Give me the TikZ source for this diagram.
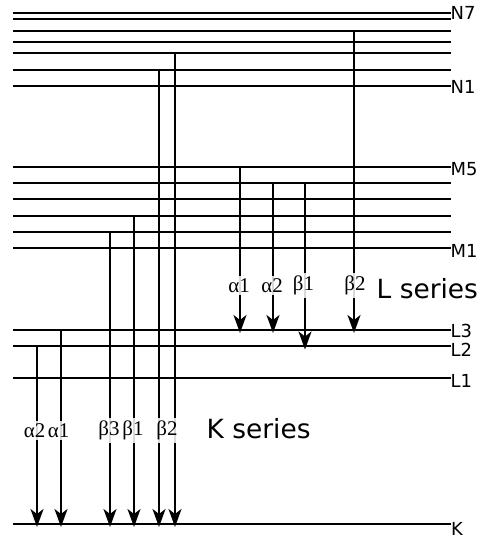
\documentclass[tikz,border=0pt]{standalone}
\usepackage{fontspec}
\setmainfont{DejaVu Sans}
\newfontfamily\grk{Liberation Serif}
\usetikzlibrary{arrows.meta}
\begin{document}
\begin{tikzpicture}[x=1bp,y=-1bp,
  lvl/.style={line width=2bp},
  tr/.style={line width=2bp,-{Stealth[length=18bp,width=13bp,inset=5bp]}},
  gl/.style={font=\grk\fontsize{21}{21}\selectfont, fill=white, fill opacity=0.85, text opacity=1, inner sep=2.5bp},
  ll/.style={font=\fontsize{18}{18}\selectfont, anchor=base west, inner sep=0pt},
  ser/.style={font=\fontsize{26.5}{26.5}\selectfont, anchor=base west, inner sep=0pt}]
\useasboundingbox (0,0) rectangle (477,538);
% energy levels
\foreach \n/\y in {n7/13, n6/19, n5/31, n4/42, n3/53, n2/70, n1/86,
                   ma/167, mb/183, mc/199, md/216, me/232, mf/248,
                   l3/330, l2/346, l1/378, k/524}{
  \coordinate (\n a) at (13,\y);
  \coordinate (\n b) at (451,\y);
  \draw[lvl] (\n a) -- (\n b);
}
% level labels
\node[ll] (tN7) at (450.5,20) {N7};
\node[ll] (tN1) at (450.5,94) {N1};
\node[ll] (tM5) at (450.5,176) {M5};
\node[ll] (tM1) at (450.5,257) {M1};
\node[ll] (tL3) at (450.5,337) {L3};
\node[ll] (tL2) at (450.5,356) {L2};
\node[ll] (tL1) at (450.5,387.5) {L1};
\node[ll] (tK) at (451,535) {K};
% L series transitions
\coordinate (la1s) at (240,167);  \coordinate (la1e) at (240,333);
\coordinate (la2s) at (273,183);  \coordinate (la2e) at (273,333);
\coordinate (lb1s) at (305,183);  \coordinate (lb1e) at (305,349.5);
\coordinate (lb2s) at (354,31);   \coordinate (lb2e) at (354,333);
\draw[tr] (la1s) -- (la1e);
\draw[tr] (la2s) -- (la2e);
\draw[tr] (lb1s) -- (lb1e);
\draw[tr] (lb2s) -- (lb2e);
% K series transitions
\coordinate (ka2s) at (37,346);  \coordinate (ka2e) at (37,527);
\coordinate (ka1s) at (61,330);  \coordinate (ka1e) at (61,527);
\coordinate (kb3s) at (110,232); \coordinate (kb3e) at (110,527);
\coordinate (kb1s) at (134,216); \coordinate (kb1e) at (134,527);
\coordinate (kb2s) at (159,70);  \coordinate (kb2e) at (159,527);
\coordinate (kc2s) at (175,53);  \coordinate (kc2e) at (175,527);
\draw[tr] (ka2s) -- (ka2e);
\draw[tr] (ka1s) -- (ka1e);
\draw[tr] (kb3s) -- (kb3e);
\draw[tr] (kb1s) -- (kb1e);
\draw[tr] (kb2s) -- (kb2e);
\draw[tr] (kc2s) -- (kc2e);
% transition labels
\node[gl] (gla1) at (239,285.5) {α1};
\node[gl] (gla2) at (272,285.5) {α2};
\node[gl] (glb1) at (303.5,285.5) {β1};
\node[gl] (glb2) at (355,285.5) {β2};
\node[gl] (gka2) at (34.5,430.5) {α2};
\node[gl] (gka1) at (58.5,430.5) {α1};
\node[gl] (gkb3) at (109,430.5) {β3};
\node[gl] (gkb1) at (133,430.5) {β1};
\node[gl] (gkb2) at (167,430.5) {β2};
% series labels
\node[ser] (Lser) at (376.5,298) {L series};
\node[ser] (Kser) at (206.5,438) {K series};
\end{tikzpicture}
\end{document}
